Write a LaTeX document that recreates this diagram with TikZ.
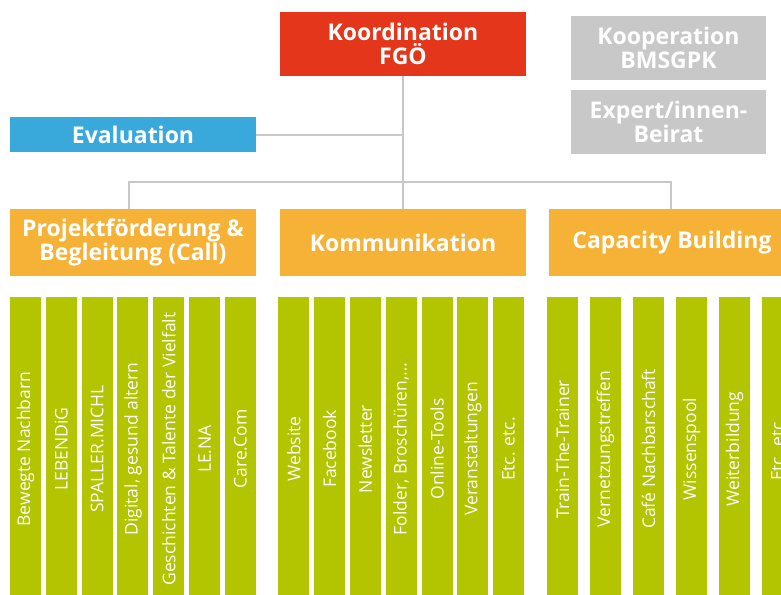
\documentclass[tikz,border=0pt]{standalone}
\usepackage{fontspec}
\setmainfont{Open Sans}
\usepackage{tikz}
\definecolor{fgoered}{RGB}{227,54,26}
\definecolor{fgoeblue}{RGB}{57,169,220}
\definecolor{fgoeorange}{RGB}{245,178,55}
\definecolor{fgoegray}{RGB}{200,200,200}
\definecolor{fgoegreen}{RGB}{178,197,0}

\begin{document}
\begin{tikzpicture}[x=1pt,y=-1pt,
  box/.style={text=white,font=\fontsize{23}{24}\selectfont\bfseries,align=center,inner sep=0pt,minimum width=246pt,minimum height=64pt},
  bar/.style={fill=fgoegreen,text=white,font=\fontsize{17.5}{20}\selectfont,rotate=90,inner sep=0pt,minimum width=304pt,minimum height=31pt},
  link/.style={draw=fgoegray,line width=2pt}]
\useasboundingbox (0,0) rectangle (781,594);

\node [box,fill=fgoered] (koord) at (403,44) {Koordination\\FGÖ};
\node [box,fill=fgoegray,minimum width=195pt] (koop) at (668.5,48) {Kooperation\\BMSGPK};
\node [box,fill=fgoegray,minimum width=195pt] (beirat) at (668.5,122) {Expert/innen-\\Beirat};
\node [box,fill=fgoeblue,minimum height=35pt] (eval) at (133,134.5) {Evaluation};
\node [box,fill=fgoeorange,minimum height=67pt] (call) at (133,242.5) {Projektförderung \&\\Begleitung (Call)};
\node [box,fill=fgoeorange,minimum height=67pt] (komm) at (403,242.5) {Kommunikation};
\node [box,fill=fgoeorange,minimum height=67pt] (capa) at (672,242.5) {Capacity Building};

% Verbindungen
\coordinate (bus) at (403,182);
\draw [link] (koord.south) -- (komm.north);
\draw [link] (eval.east) -- (eval.east -| koord.south);
\draw [link] ([xshift=-4pt]call.north) |- (bus) -| ([xshift=-1pt]capa.north);

% Massnahmen
\foreach \txt [count=\i] in {Bewegte Nachbarn,LEBENDiG,SPALLER.MICHL,{Digital, gesund altern},Geschichten \& Talente der Vielfalt,LE.NA,Care.Com}
  \node [bar] (call-\i) at ({25.5+35.83*(\i-1)},449) {\txt};
\foreach \txt [count=\i] in {Website,Facebook,Newsletter,{Folder, Broschüren,\ldots},Online-Tools,Veranstaltungen,Etc. etc.}
  \node [bar] (komm-\i) at ({293.8+35.8*(\i-1)},449) {\txt};
\foreach \txt [count=\i] in {Train-The-Trainer,Vernetzungstreffen,Café Nachbarschaft,Wissenspool,Weiterbildung,Etc. etc.}
  \node [bar,minimum height=30.5pt] (capa-\i) at ({562.5+43*(\i-1)},449) {\txt};
\end{tikzpicture}
\end{document}
